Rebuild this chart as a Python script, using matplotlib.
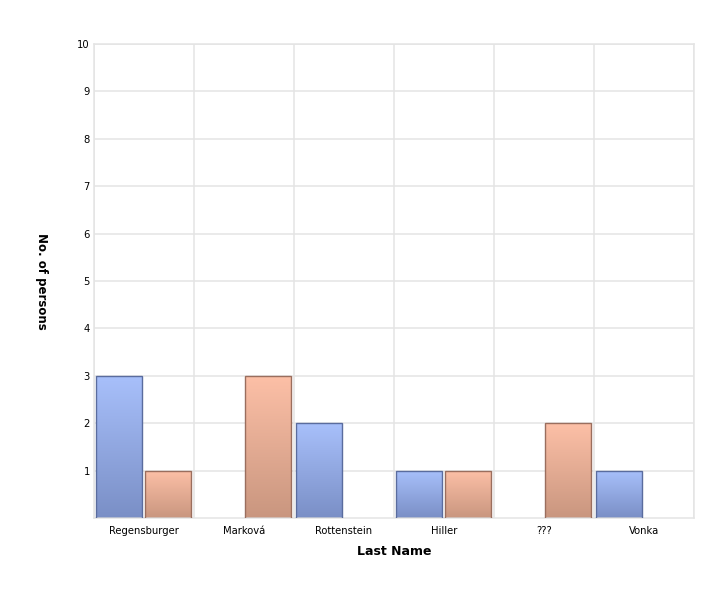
import matplotlib
matplotlib.use("Agg")
import matplotlib.pyplot as plt
import numpy as np
from matplotlib.colors import LinearSegmentedColormap

categories = ["Regensburger", "Marková", "Rottenstein", "Hiller", "???", "Vonka"]
series_blue = [3, 0, 2, 1, 0, 1]
series_orange = [1, 3, 0, 1, 2, 0]
yticks = [1, 2, 3, 4, 5, 6, 7, 8, 9, 10]

W, H = 726, 594
fig = plt.figure(figsize=(W / 100, H / 100), dpi=100)
ax = fig.add_axes([94 / W, (H - 518) / H, 600 / W, (518 - 44) / H])

x = np.arange(len(categories))
bw = 0.46
blue_cmap = LinearSegmentedColormap.from_list("b", ["#7a8fc6", "#a8c0fb"])
orange_cmap = LinearSegmentedColormap.from_list("o", ["#c9967f", "#fdc0a7"])

def grad_bars(xs, vals, cmap, edge):
    bars = ax.bar(xs, vals, width=bw, color="none", edgecolor=edge, linewidth=1.0, zorder=3)
    grad = np.linspace(0, 1, 256).reshape(-1, 1)
    for b in bars:
        h = b.get_height()
        if h <= 0:
            b.set_visible(False)
            continue
        x0 = b.get_x()
        im = ax.imshow(grad, cmap=cmap, origin="lower", aspect="auto",
                       extent=[x0, x0 + b.get_width(), 0, h], zorder=2)
        im.set_clip_path(b)

grad_bars(x - 0.25, series_blue, blue_cmap, "#5a6c9e")
grad_bars(x + 0.24, series_orange, orange_cmap, "#9a6e5e")

ax.set_xlim(-0.5, len(categories) - 0.5)
ax.set_ylim(0, 10)
ax.set_xticks(x)
ax.set_xticklabels(categories, fontsize=7.2)
ax.set_yticks(yticks)
ax.set_yticklabels([str(v) for v in yticks], fontsize=7.2)
ax.set_xticks(np.arange(-0.5, len(categories)), minor=True)
ax.tick_params(axis="both", which="both", length=0)
ax.tick_params(axis="x", pad=6)
ax.tick_params(axis="y", pad=3)
ax.grid(axis="y", which="major", color="#e4e4e4", linewidth=1.1, zorder=0)
ax.grid(axis="x", which="minor", color="#e4e4e4", linewidth=1.1, zorder=0)
ax.grid(axis="x", which="major", visible=False)
ax.set_axisbelow(True)
for s in ax.spines.values():
    s.set_color("#e4e4e4")
    s.set_linewidth(1.1)

ax.set_xlabel("Last Name", fontsize=9, fontweight="bold", labelpad=6)
ax.set_ylabel("No. of persons", fontsize=8.5, fontweight="bold", rotation=-90, labelpad=0,
              va="center", ha="center")
ax.yaxis.set_label_coords(-0.087, 0.5)

fig.savefig("out.png", dpi=100)
